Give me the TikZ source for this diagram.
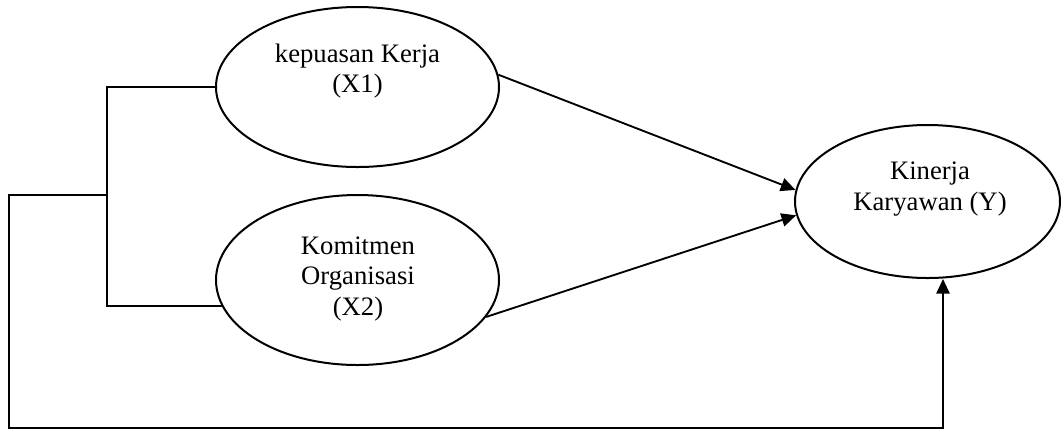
\documentclass[tikz,border=0pt]{standalone}
\usepackage{fontspec}
\setmainfont{Liberation Serif}
\usetikzlibrary{shapes.geometric,arrows.meta}
\begin{document}
\begin{tikzpicture}[x=0.75pt,y=-0.75pt,
  line width=1.4pt,
  oval/.style={ellipse,draw,line width=1.5pt,inner sep=0pt},
  lbl/.style={align=center,font=\fontsize{20pt}{23pt}\selectfont,inner sep=0pt},
  arr/.style={-{Triangle[length=11pt,width=10pt]}}]
\useasboundingbox (0,0) rectangle (1061,430);
% ellipses
\node[oval,minimum width=283*0.75pt,minimum height=160*0.75pt] (X1) at (357.5,87) {};
\node[oval,minimum width=283*0.75pt,minimum height=170*0.75pt] (X2) at (357.5,280) {};
\node[oval,minimum width=265*0.75pt,minimum height=153*0.75pt] (Y) at (927.5,201.5) {};
% texts
\node[lbl] (tX1) at (357.5,71) {kepuasan Kerja\\(X1)};
\node[lbl] (tX2) at (358,279) {Komitmen\\Organisasi\\(X2)};
\node[lbl] (tY) at (930,189) {Kinerja\\Karyawan (Y)};
% coordinates
\coordinate (jn) at (107,195);
\coordinate (lt) at (9,195);
\coordinate (lb) at (9,428);
\coordinate (rb) at (943,428);
% bracket
\draw (X1.west) -| (jn) |- (X2.191);
\draw[arr] (jn) -- (lt) -- (lb) -- (rb) -- (rb |- Y.south);
% arrows
\draw[arr] (X1.5.3) -- (Y.175.1);
\draw[arr] (X2.-16.6) -- (Y.186.2);
\end{tikzpicture}
\end{document}
